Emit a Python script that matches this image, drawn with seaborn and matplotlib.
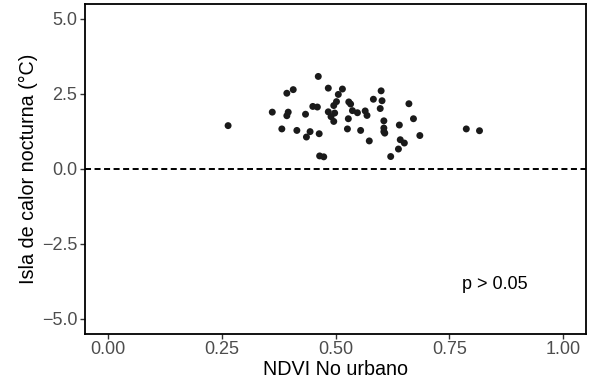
import numpy as np
import pandas as pd
import seaborn as sns
import matplotlib.pyplot as plt

ndvi = [0.264, 0.361, 0.393, 0.407, 0.396, 0.393, 0.382, 0.415, 0.434, 0.436,
        0.444, 0.462, 0.450, 0.460, 0.464, 0.465, 0.474, 0.484, 0.484, 0.490,
        0.498, 0.496, 0.496, 0.502, 0.506, 0.515, 0.529, 0.533, 0.528, 0.526,
        0.537, 0.548, 0.555, 0.565, 0.569, 0.574, 0.583, 0.600, 0.602, 0.598,
        0.606, 0.606, 0.606, 0.608, 0.621, 0.640, 0.642, 0.651, 0.638, 0.661,
        0.671, 0.685, 0.787, 0.816]
icu = [1.44, 1.89, 2.52, 2.64, 1.89, 1.77, 1.33, 1.28, 1.82, 1.06,
       1.24, 3.08, 2.08, 2.06, 1.17, 0.43, 0.40, 2.69, 1.90, 1.74,
       1.86, 1.58, 2.11, 2.24, 2.48, 2.66, 2.23, 2.16, 1.67, 1.33,
       1.94, 1.87, 1.28, 1.93, 1.78, 0.93, 2.32, 2.60, 2.27, 2.01,
       1.60, 1.36, 1.24, 1.19, 0.41, 1.46, 0.97, 0.86, 0.66, 2.17,
       1.67, 1.11, 1.33, 1.27]

x_ticks = [0.00, 0.25, 0.50, 0.75, 1.00]
y_ticks = [-5.0, -2.5, 0.0, 2.5, 5.0]
p_label = 'p > 0.05'

df = pd.DataFrame({'ndvi': ndvi, 'icu': icu})

sns.set_style('white')
plt.rcParams['font.family'] = ['Liberation Sans', 'DejaVu Sans']

fig = plt.figure(figsize=(5.95, 3.85), dpi=100)
ax = fig.add_axes([0.143, 0.133, 0.842, 0.857])

ax.axhline(0, color='black', lw=1.4, dashes=(3.1, 1.8), zorder=1)
sns.scatterplot(data=df, x='ndvi', y='icu', color='#1a1a1a', s=25, edgecolor='none', ax=ax, zorder=2)

ax.text(0.85, -3.87, p_label, ha='center', va='center', fontsize=13, color='black')

ax.set_xlim(-0.05, 1.05)
ax.set_ylim(-5.5, 5.5)
ax.set_xticks(x_ticks)
ax.set_xticklabels([f'{v:.2f}' for v in x_ticks])
ax.set_yticks(y_ticks)
ax.set_yticklabels([f'{v:.1f}'.replace('-', '\u2212') for v in y_ticks])
ax.tick_params(axis='both', which='both', length=3.5, width=1, color='#333333',
               labelcolor='#4d4d4d', labelsize=13, direction='out', left=True, bottom=True, pad=2)

for side in ax.spines.values():
    side.set_color('black')
    side.set_linewidth(1.3)

ax.set_xlabel('NDVI No urbano', fontsize=14.2, color='black', labelpad=1)
ax.set_ylabel('Isla de calor nocturna (°C)', fontsize=14.2, color='black', labelpad=3)

plt.savefig('out.png', dpi=100)
plt.close()
